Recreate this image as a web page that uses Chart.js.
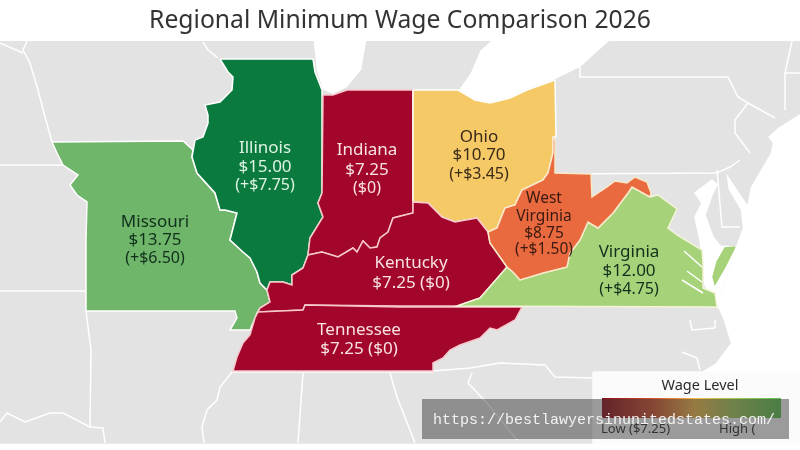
<!DOCTYPE html>
<html lang="en">
  <head>
    <meta charset="utf-8" />
    <title>Regional Minimum Wage Comparison 2026</title>
    <style>
      * {
        margin: 0;
        padding: 0;
      }
      body {
        background: #fff;
        overflow: hidden;
      }
      canvas {
        display: block;
      }
    </style>
  </head>
  <body>
    <canvas id="myChart" width="800" height="450"></canvas>
    <script src="https://cdn.jsdelivr.net/npm/chart.js/dist/chart.umd.min.js"></script>
    <script>
      const titleText = "Regional Minimum Wage Comparison 2026";
      const stateNames = ["Illinois", "Missouri", "Virginia", "Ohio", "West Virginia", "Indiana", "Kentucky", "Tennessee"];
      const stateWages = [15.0, 13.75, 12.0, 10.7, 8.75, 7.25, 7.25, 7.25];
      const wageGaps = [7.75, 6.5, 4.75, 3.45, 1.5, 0, 0, 0];

      // outlines in map units
      const landOutline = [
        [0, 41], [313, 41], [316, 70], [322, 90], [333, 95], [347, 88], [362, 70], [367, 41], [490, 41], [480, 50],
        [470, 73], [458, 90], [475, 100], [490, 103], [510, 98], [527, 90], [555, 80], [580, 68], [610, 41], [800, 41],
        [800, 113], [778, 127], [767, 137], [772, 143], [770, 153], [750, 187], [747, 203], [733, 182], [725, 170],
        [728, 190], [740, 210], [742, 228], [735, 247], [717, 307], [723, 320], [730, 343], [715, 363], [700, 372],
        [593, 372], [593, 443], [0, 443], [0, 41],
      ];
      const bayOutline = [
        [712, 180], [695, 193], [702, 203], [695, 217], [700, 240], [705, 285], [717, 307], [735, 247], [720, 246],
        [713, 237], [705, 215], [712, 195], [717, 185], [712, 180],
      ];
      const illinoisOutline = [
        [220, 59], [313, 59], [315, 72], [322, 90], [322, 193], [318, 203], [323, 217], [310, 238], [308, 255], [303, 268],
        [292, 275], [292, 285], [283, 282], [270, 282], [267, 290], [260, 283], [257, 272], [250, 258], [243, 252],
        [230, 240], [237, 213], [225, 210], [220, 210], [215, 193], [197, 173], [192, 157], [195, 140], [203, 137],
        [208, 123], [208, 115], [205, 105], [220, 102], [232, 90], [233, 77], [228, 72], [220, 59],
      ];
      const missouriOutline = [
        [52, 142], [183, 141], [193, 150], [192, 157], [197, 173], [215, 193], [220, 210], [225, 210], [237, 213],
        [230, 240], [243, 252], [250, 258], [257, 272], [260, 283], [267, 290], [270, 302], [260, 308], [257, 313],
        [250, 330], [230, 330], [237, 318], [235, 311], [86, 311], [86, 240], [87, 202], [77, 195], [70, 185], [78, 175],
        [63, 165], [57, 153], [52, 142],
      ];
      const indianaOutline = [
        [323, 95], [333, 95], [347, 90], [413, 90], [413, 213], [393, 218], [388, 232], [380, 238], [377, 247], [370, 248],
        [363, 241], [357, 252], [353, 248], [338, 257], [322, 252], [308, 255], [310, 238], [323, 217], [318, 203],
        [322, 193], [323, 95],
      ];
      const ohioOutline = [
        [413, 90], [458, 90], [475, 100], [490, 103], [510, 98], [527, 90], [555, 80], [556, 137], [553, 137], [553, 153],
        [548, 173], [543, 180], [522, 190], [515, 205], [505, 208], [497, 228], [488, 232], [477, 218], [455, 222],
        [442, 217], [428, 203], [413, 202], [413, 90],
      ];
      const westVirginiaOutline = [
        [553, 137], [555, 140], [555, 173], [591, 174], [592, 197], [607, 187], [615, 181], [627, 183], [635, 177],
        [647, 182], [651, 193], [650, 197], [632, 187], [628, 193], [613, 213], [598, 228], [588, 222], [580, 240],
        [570, 253], [567, 267], [543, 273], [520, 280], [513, 272], [507, 267], [490, 243], [488, 232], [497, 228],
        [505, 208], [515, 205], [522, 190], [543, 180], [548, 173], [553, 153], [553, 137],
      ];
      const virginiaOutline = [
        [632, 187], [650, 197], [658, 195], [677, 209], [668, 228], [677, 235], [702, 250], [703, 263], [703, 277],
        [703, 288], [715, 293], [717, 307], [457, 306], [480, 298], [507, 267], [513, 272], [520, 280], [543, 273],
        [567, 267], [570, 253], [580, 240], [588, 222], [598, 228], [613, 213], [628, 193], [632, 187],
      ];
      const delmarvaOutline = [[735, 247], [725, 248], [717, 262], [713, 277], [715, 284], [725, 267], [735, 247]];
      const kentuckyOutline = [
        [267, 290], [270, 282], [283, 282], [292, 285], [292, 275], [303, 268], [308, 255], [322, 252], [338, 257],
        [353, 248], [357, 252], [363, 241], [370, 248], [377, 247], [380, 238], [388, 232], [393, 218], [413, 213],
        [413, 202], [428, 203], [442, 217], [455, 222], [477, 218], [488, 232], [490, 243], [507, 267], [480, 298],
        [457, 306], [400, 306], [305, 305], [303, 310], [258, 312], [260, 308], [270, 302], [267, 290],
      ];
      const tennesseeOutline = [
        [258, 312], [303, 310], [305, 305], [400, 307], [522, 307], [515, 320], [497, 330], [490, 328], [480, 338],
        [460, 345], [450, 350], [443, 358], [433, 363], [433, 371], [233, 371], [237, 357], [243, 343], [250, 335],
        [255, 318], [258, 312],
      ];
      const borderLines = [
        [[0, 43], [23, 53]],
        [[27, 41], [23, 50], [30, 63], [38, 90], [45, 117], [52, 142]],
        [[203, 42], [208, 50], [218, 58]],
        [[0, 165], [63, 165]],
        [[0, 291], [85, 291]],
        [[86, 311], [91, 350], [90, 427], [103, 428], [105, 443]],
        [[0, 422], [7, 413], [25, 422], [50, 413], [63, 413], [90, 427]],
        [[233, 371], [220, 387], [217, 400], [207, 410], [202, 427], [204, 443]],
        [[303, 373], [298, 443]],
        [[390, 373], [397, 397], [415, 443]],
        [[233, 372], [433, 372]],
        [[433, 371], [470, 368], [500, 363], [545, 365], [555, 377], [593, 378]],
        [[472, 373], [468, 383], [487, 403], [517, 440]],
        [[580, 67], [580, 77], [728, 77], [738, 97], [748, 103], [775, 118]],
        [[748, 103], [735, 120], [735, 133], [750, 153]],
        [[555, 174], [717, 173], [730, 167], [740, 160]],
        [[717, 170], [722, 227], [740, 227]],
        [[792, 41], [785, 73], [785, 110]],
        [[785, 73], [800, 73]],
        [[690, 320], [692, 330], [715, 328]],
        [[715, 320], [715, 328]],
        [[682, 352], [697, 358], [700, 370]],
      ];
      const riverLines = [
        [[684, 251], [702, 267]],
        [[687, 271], [702, 282]],
        [[682, 280], [703, 293]],
      ];
      const legendBox = [[593, 372], [800, 372], [800, 443], [593, 443], [593, 372]];
      const colorBar = [[602, 398], [781, 398], [781, 418], [602, 418], [602, 398]];

      const toPoints = (pts) => pts.map(([x, y]) => ({ x, y }));

      const shape = (outline, color, border) => ({
        data: toPoints(outline),
        showLine: true,
        fill: "shape",
        backgroundColor: color,
        borderColor: border || "#fff",
        borderWidth: border === "none" ? 0 : 1.5,
        pointRadius: 0,
        tension: 0,
      });

      const line = (pts) => ({
        data: toPoints(pts),
        showLine: true,
        fill: false,
        borderColor: "#fff",
        borderWidth: 1.5,
        pointRadius: 0,
        tension: 0,
      });

      // bottom layer first
      const layers = [
        shape(landOutline, "#e3e3e3", "#e3e3e3"),
        shape(bayOutline, "#fff"),
        ...borderLines.map(line),
        shape(delmarvaOutline, "#a6d27a", "#a6d27a"),
        shape(missouriOutline, "#6fb56a"),
        shape(illinoisOutline, "#0b7a3e"),
        shape(indianaOutline, "#a2062a", "#f6c8cc"),
        shape(ohioOutline, "#f5c966"),
        shape(kentuckyOutline, "#a2062a", "#f6c8cc"),
        shape(tennesseeOutline, "#a2062a", "#f6c8cc"),
        shape(virginiaOutline, "#a6d27a", "#f4f4d8"),
        shape(westVirginiaOutline, "#ea6a3f", "#f8e8c8"),
        ...riverLines.map(line),
        shape(legendBox, "#fbfbfb", "#fbfbfb"),
        shape(colorBar, (c) => {
          const g = c.chart.ctx.createLinearGradient(602, 0, 781, 0);
          g.addColorStop(0, "#8a0a18");
          g.addColorStop(0.28, "#d0502c");
          g.addColorStop(0.52, "#f2b84c");
          g.addColorStop(0.75, "#9cc858");
          g.addColorStop(1, "#58c050");
          return g;
        }, "none"),
      ];
      layers.forEach((d, i) => (d.order = layers.length - i));

      const money = (v) => "$" + v.toFixed(2);

      const stateText = (i) => {
        const gap = wageGaps[i] ? "(+" + money(wageGaps[i]) + ")" : "($0)";
        return { wage: money(stateWages[i]), gap };
      };

      // text position, colour and lines for each state, same order as stateNames
      const labelStyle = [
        { x: 265, ys: [148, 167, 185], color: "#dff3e4" },
        { x: 155, ys: [222, 240, 258], color: "#10301c" },
        { x: 629, ys: [252, 271, 289], color: "#14301c" },
        { x: 479, ys: [137, 155, 174], color: "#3a2a18" },
        { x: 544, ys: [199, 217, 234, 250], color: "#3a1a10", small: true },
        { x: 367, ys: [150, 170, 188], color: "#f8e2e2" },
        { x: 411, ys: [263, 283], color: "#f8e2e2", oneLine: true },
        { x: 359, ys: [330, 349], color: "#f8e2e2", oneLine: true },
      ];

      const mapText = {
        id: "mapText",
        afterDatasetsDraw(chart) {
          const ctx = chart.ctx;
          const xs = chart.scales.x;
          const ys = chart.scales.y;
          const put = (str, x, y, font, color, align) => {
            ctx.font = font;
            ctx.fillStyle = color;
            ctx.textAlign = align || "center";
            ctx.textBaseline = "middle";
            ctx.fillText(str, xs.getPixelForValue(x), ys.getPixelForValue(y));
          };
          ctx.save();
          stateNames.forEach((name, i) => {
            const s = labelStyle[i];
            const t = stateText(i);
            let lines;
            if (s.oneLine) lines = [name, t.wage + " " + t.gap];
            else if (name === "West Virginia") lines = ["West", "Virginia", t.wage, t.gap];
            else lines = [name, t.wage, t.gap];
            lines.forEach((str, j) => {
              let size = 17;
              if (s.small) size = 15.5;
              else if (j === 2) size = 16;
              put(str, s.x, s.ys[j], size + 'px "Noto Sans"', s.color);
            });
          });

          put("Wage Level", 700, 386, '14.5px "Noto Sans"', "#2b2b2b");
          put("Low ($7.25)", 601, 429, '13px "Noto Sans"', "#2b2b2b", "left");
          put("High (", 719, 429, '13px "Noto Sans"', "#2b2b2b", "left");

          // url strip across the legend
          ctx.fillStyle = "rgba(60, 60, 60, 0.5)";
          ctx.fillRect(422, 399, 367, 40);
          put("https://bestlawyersinunitedstates.com/", 604, 420, '15px "Liberation Mono"', "#f2f2f2");
          ctx.restore();
        },
      };

      const myChart = new Chart(document.getElementById("myChart"), {
        type: "scatter",
        data: { datasets: layers },
        plugins: [mapText],
        options: {
          responsive: false,
          animation: false,
          devicePixelRatio: 1,
          layout: { padding: 0 },
          scales: {
            x: { type: "linear", display: false, min: 0, max: 800 },
            y: { type: "linear", display: false, min: 41, max: 450, reverse: true },
          },
          plugins: {
            legend: { display: false },
            tooltip: { enabled: false },
            title: {
              display: true,
              text: titleText,
              color: "#333",
              font: { family: '"Noto Sans"', size: 24.7, weight: "normal", lineHeight: "30px" },
              padding: { top: 6, bottom: 5 },
            },
          },
        },
      });
    </script>
  </body>
</html>
